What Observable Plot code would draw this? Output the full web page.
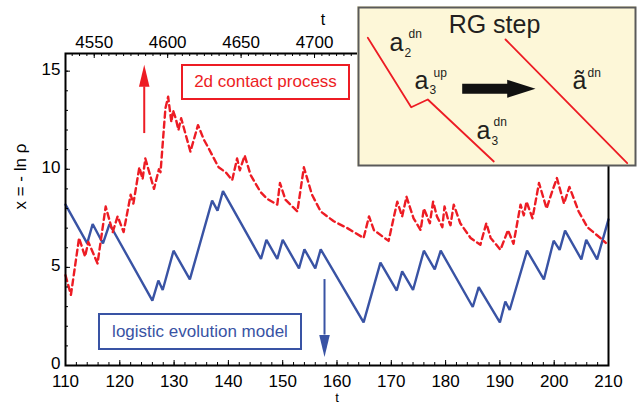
<!DOCTYPE html>
<html><head><meta charset="utf-8">
<script src="https://cdn.jsdelivr.net/npm/d3@7"></script>
<script src="https://cdn.jsdelivr.net/npm/@observablehq/plot@0.6"></script>
<style>
body{margin:0;background:#fff;font-family:"Liberation Sans",Arial,sans-serif;}
#wrap{position:relative;width:639px;height:404px;overflow:hidden;}
.box{position:absolute;box-sizing:border-box;display:flex;align-items:center;justify-content:center;font-size:17px;background:transparent;}
#inset{position:absolute;left:357px;top:6px;width:279px;height:160px;}
</style></head><body><div id="wrap"></div>
<script>
// ---- data: 2d contact process (red dashed) ----
const redT = [110.0,111.0,112.5,113.6,114.2,115.9,117.4,118.7,119.6,120.7,122.0,122.5,123.6,124.2,124.7,126.3,127.2,127.5,128.4,128.9,129.5,129.8,130.3,130.8,131.3,133.0,134.4,135.5,136.1,138.2,139.5,140.7,141.6,142.1,143.0,144.1,145.9,147.1,149.0,149.5,150.5,152.7,153.9,155.4,157.0,159.4,161.9,164.9,165.9,166.8,169.5,171.1,172.0,172.8,174.1,175.4,176.0,177.1,177.7,178.4,179.4,179.8,180.4,180.9,181.5,182.7,184.6,186.4,187.5,188.3,190.1,191.5,192.5,193.8,194.4,194.9,196.0,197.2,198.6,199.6,200.5,201.8,202.8,204.5,206.1,208.5,209.5];
const redX = [4.6,3.6,6.5,5.55,6.3,5.2,8.1,6.8,7.6,6.8,8.7,8.25,10.1,9.5,10.55,9.0,10.0,9.85,13.1,13.7,12.4,13.0,12.6,12.0,12.6,10.9,12.25,11.5,11.2,10.1,9.85,9.45,10.55,9.95,10.7,9.7,8.85,8.5,8.2,9.3,8.45,7.85,10.1,8.7,7.85,7.35,7.0,6.5,7.6,6.9,6.35,8.35,7.6,8.6,7.5,6.9,8.0,7.25,8.35,7.6,7.05,8.1,7.5,7.15,8.2,7.25,6.5,6.15,7.25,6.5,5.9,6.9,6.2,8.2,7.65,8.35,7.5,9.3,8.0,8.85,9.55,8.25,9.1,7.85,7.05,6.5,6.25];
// ---- data: logistic evolution model (blue) ----
const blueT = [110,114.0,115.0,116.9,118.1,126.0,127.1,127.9,129.9,132.9,137.0,138.0,139.0,146.0,147.0,149.0,150.0,153.0,154.0,156.0,157.0,164.9,168.0,171.0,172.0,174.0,176.0,178.0,179.1,185.0,186.1,190.0,191.0,191.8,195.0,198.1,199.9,201.0,202.0,205.0,205.9,207.9,210.0];
const blueX = [8.2,6.22,7.21,6.22,7.21,3.31,4.33,3.85,5.85,4.39,8.40,7.89,8.89,5.43,6.40,5.43,6.40,4.95,5.92,4.95,5.92,2.20,5.24,3.82,4.80,3.85,5.85,4.90,5.85,2.98,3.99,2.20,3.26,2.83,5.85,4.39,6.36,5.89,6.87,5.41,6.40,5.41,7.45];
// ---- ticks ----
const bottomTicks = [110,120,130,140,150,160,170,180,190,200,210];
const bottomMinor = d3.range(110, 211, 2);
const leftTicks = [0,5,10,15];
const leftMinor = d3.range(0, 16, 1);
const topTicks = [4550,4600,4650,4700]; // later labels are hidden behind the inset
const topMinor = d3.range(4535, 4901, 5);
// top axis (t) relates linearly to bottom axis (t)
const topRef = {T0: 4550, t0: 115.29, slope: 3.697};
const toBottom = T => topRef.t0 + (T - topRef.T0) / topRef.slope;
// ---- annotation arrows (t, tail, head base, tip) ----
const redArrow = {t: 124.5, tail: 11.82, base: 14.2, tip: 15.28};
const blueArrow = {t: 157.7, tail: 4.38, base: 1.55, tip: 0.42};

const RED = "#ed1c24", BLUE = "#3953a4";
const red = redT.map((t, i) => ({t, x: redX[i]}));
const blue = blueT.map((t, i) => ({t, x: blueX[i]}));

const M = {l: 65, r: 31, t: 53, b: 39}, W = 639, H = 404;
const PW = W - M.l - M.r, PH = H - M.t - M.b;

const headUp = {draw(ctx, size) { const r = Math.sqrt(size / Math.PI); ctx.moveTo(0, -2 * r); ctx.lineTo(0.48 * r, 0); ctx.lineTo(-0.48 * r, 0); ctx.closePath(); }};
const headDown = {draw(ctx, size) { const r = Math.sqrt(size / Math.PI); ctx.moveTo(0, 2 * r); ctx.lineTo(0.48 * r, 0); ctx.lineTo(-0.48 * r, 0); ctx.closePath(); }};

const chart = Plot.plot({
  width: W, height: H,
  marginLeft: M.l, marginRight: M.r, marginTop: M.t, marginBottom: M.b,
  x: {domain: [110, 210]},
  y: {domain: [0, 15.9]},
  style: {fontFamily: "'Liberation Sans', Arial, sans-serif", fontSize: "17px", color: "black", background: "white", overflow: "visible"},
  marks: [
    // data
    Plot.line(blue, {x: "t", y: "x", stroke: BLUE, strokeWidth: 2.4, strokeLinejoin: "miter"}),
    Plot.line(red, {x: "t", y: "x", stroke: RED, strokeWidth: 2.4, strokeDasharray: "6,4"}),
    // arrows
    Plot.ruleX([redArrow], {x: "t", y1: "tail", y2: "base", stroke: RED, strokeWidth: 2}),
    Plot.dot([redArrow], {x: "t", y: "base", r: 11, symbol: headUp, fill: RED, stroke: "none"}),
    Plot.ruleX([blueArrow], {x: "t", y1: "tail", y2: "base", stroke: BLUE, strokeWidth: 2}),
    Plot.dot([blueArrow], {x: "t", y: "base", r: 11, symbol: headDown, fill: BLUE, stroke: "none"}),
    // inward ticks
    Plot.tickX(bottomMinor, {x: d => d, insetTop: PH - 3, stroke: "black"}),
    Plot.tickX(bottomTicks, {x: d => d, insetTop: PH - 5, stroke: "black"}),
    Plot.tickX(topMinor.map(toBottom).filter(d => d >= 110 && d <= 210), {x: d => d, insetBottom: PH - 3, stroke: "black"}),
    Plot.tickX(topTicks.map(toBottom), {x: d => d, insetBottom: PH - 5, stroke: "black"}),
    Plot.tickY(leftMinor, {y: d => d, insetRight: PW - 3, stroke: "black"}),
    Plot.tickY(leftTicks, {y: d => d, insetRight: PW - 5, stroke: "black"}),
    // tick labels
    Plot.axisX({anchor: "bottom", ticks: bottomTicks, tickSize: 0, tickPadding: 9, label: null}),
    Plot.axisX({anchor: "top", ticks: topTicks.map(toBottom), tickFormat: (d, i) => String(topTicks[i]), tickSize: 0, tickPadding: 6, label: null}),
    Plot.axisY({anchor: "left", ticks: leftTicks, tickSize: 0, tickPadding: 5, label: null, dy: -2}),
    Plot.frame({stroke: "black", strokeWidth: 2}),
    // axis titles
    Plot.text(["t"], {frameAnchor: "bottom", text: d => d, dy: 32, fontSize: 13, lineAnchor: "middle"}),
    Plot.text(["t"], {frameAnchor: "top", text: d => d, dy: -40, dx: -14, fontSize: 16}),
    Plot.text(["x = - ln \u03c1"], {frameAnchor: "left", text: d => d, dx: -45, rotate: -90, fontSize: 17})
  ]
});
const wrap = document.getElementById("wrap");
wrap.appendChild(chart);

// legend boxes
const redBox = document.createElement("div");
redBox.className = "box";
Object.assign(redBox.style, {left: "181px", top: "64px", width: "169px", height: "36px", border: "2px solid " + RED, color: RED});
redBox.textContent = "2d contact process";
wrap.appendChild(redBox);
const blueBox = document.createElement("div");
blueBox.className = "box";
Object.assign(blueBox.style, {left: "98px", top: "313px", width: "204px", height: "37px", border: "2px solid " + BLUE, color: BLUE});
blueBox.textContent = "logistic evolution model";
wrap.appendChild(blueBox);

// ---- inset: RG step schematic ----
const insetLeftLine = [[10.3,31.3],[53.7,100.7],[70.3,93],[136.3,155]];
const insetRightLine = [[148,33],[269.7,156.7]];
const insetArrow = [[104.7,77.3],[149.7,77.3],[149.7,73.3],[178,82.3],[149.7,91.3],[149.7,87.3],[104.7,87.3],[104.7,77.3]];
const insetBig = [{s:"a",x:32,y:44},{s:"a",x:57,y:82},{s:"a",x:119,y:132},{s:"\u00e3",x:215,y:82}];
const insetSmall = [{s:"2",x:47,y:50},{s:"dn",x:51,y:31},{s:"3",x:72,y:87},{s:"up",x:76,y:70},{s:"3",x:134,y:138},{s:"dn",x:136,y:119},{s:"dn",x:230,y:70}];
const insetTitle = [{s:"RG step",x:137,y:26}];
const INK = "#231f20";
const inset = Plot.plot({
  width: 279, height: 160, margin: 0,
  x: {domain: [0, 279], range: [0, 279], axis: null},
  y: {domain: [0, 160], range: [0, 160], axis: null},
  style: {fontFamily: "'Liberation Sans', Arial, sans-serif", background: "#fdf7d8", overflow: "visible"},
  marks: [
    Plot.frame({stroke: "#5a5a5a", strokeWidth: 2, inset: 1}),
    Plot.line(insetLeftLine, {x: d => d[0], y: d => d[1], stroke: RED, strokeWidth: 1.8}),
    Plot.line(insetRightLine, {x: d => d[0], y: d => d[1], stroke: RED, strokeWidth: 1.8}),
    Plot.line(insetArrow, {x: d => d[0], y: d => d[1], fill: "#111", stroke: "none"}),
    Plot.text(insetTitle, {x: "x", y: "y", text: "s", fontSize: 25, fill: INK, lineAnchor: "bottom", textAnchor: "middle"}),
    Plot.text(insetBig, {x: "x", y: "y", text: "s", fontSize: 25, fill: INK, lineAnchor: "bottom", textAnchor: "start"}),
    Plot.text(insetSmall, {x: "x", y: "y", text: "s", fontSize: 12, fill: INK, lineAnchor: "bottom", textAnchor: "start"})
  ]
});
const insetDiv = document.createElement("div");
insetDiv.id = "inset";
insetDiv.appendChild(inset);
wrap.appendChild(insetDiv);
</script></body></html>
